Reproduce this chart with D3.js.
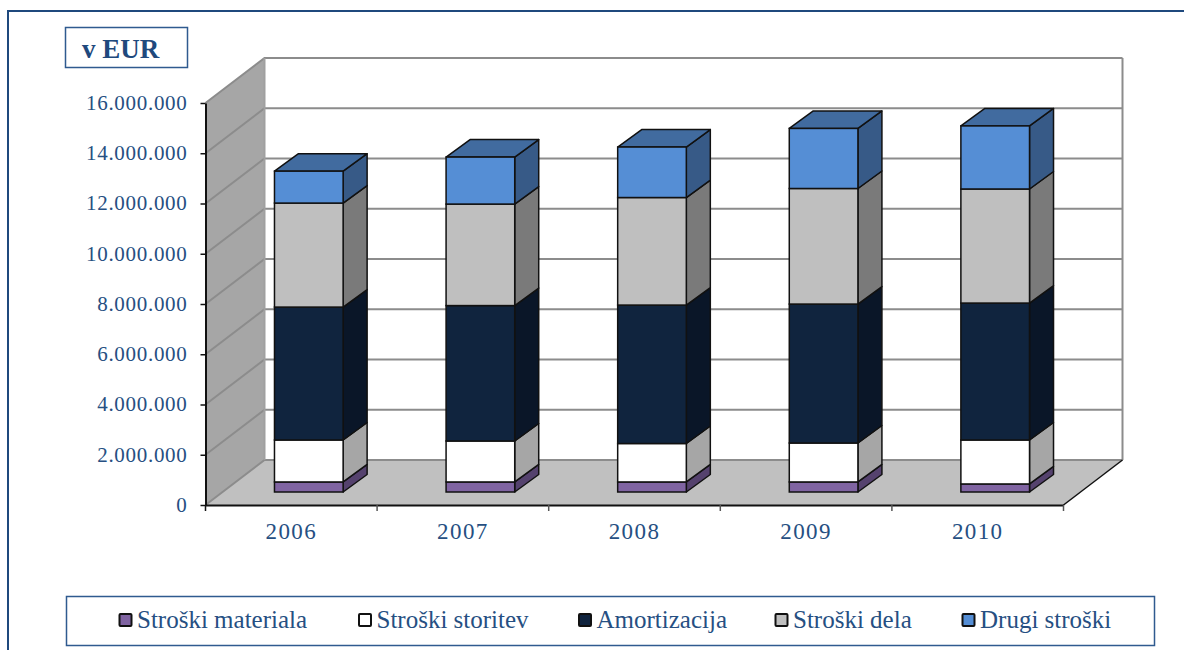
<!DOCTYPE html>
<html>
<head>
<meta charset="utf-8">
<script src="https://cdn.jsdelivr.net/npm/d3@7"></script>
<style>
  html, body { margin: 0; padding: 0; background: #fff; overflow: hidden; }
  text { font-family: "Liberation Serif", serif; fill: #264f82; }
</style>
</head>
<body>
<div id="chart"></div>
<script>
// chart data
var years = ["2006", "2007", "2008", "2009", "2010"];
var material = [400000, 400000, 400000, 400000, 320000];
var storitve = [1670000, 1630000, 1530000, 1550000, 1750000];
var amortizacija = [5290000, 5390000, 5510000, 5530000, 5450000];
var dela = [4140000, 4040000, 4280000, 4600000, 4540000];
var drugi = [1270000, 1870000, 2010000, 2390000, 2510000];
var seriesNames = ["Stroški materiala", "Stroški storitev", "Amortizacija", "Stroški dela", "Drugi stroški"];
var yTicks = [0, 2000000, 4000000, 6000000, 8000000, 10000000, 12000000, 14000000, 16000000];

// front, side, top colours per series
var colors = [
  ["#8064a2", "#55426e", "#66507f"],
  ["#ffffff", "#a6a6a6", "#cccccc"],
  ["#10243e", "#0a1628", "#0d1d32"],
  ["#bfbfbf", "#7a7a7a", "#999999"],
  ["#558ed5", "#375a87", "#416b9f"]
];

var svgWidth = 1184, svgHeight = 650;
var plot = { left: 205.5, right: 1063.5, top: 103, bottom: 505 };
var depth = { x: 59, y: -45 };          // floor/wall depth
var barDepth = { x: 24, y: -17.5 };     // depth of a bar
var barShift = { x: 17.5, y: -13 };     // bar sits inside the floor

var svg = d3.select("#chart").append("svg")
  .attr("width", svgWidth)
  .attr("height", svgHeight);

var x = d3.scaleBand().domain(years).range([plot.left, plot.right]);
var y = d3.scaleLinear().domain([0, 16000000]).range([plot.bottom, plot.top]);
var barWidth = x.bandwidth() / 2.5;

function fmt(v) {
  return String(v).replace(/\B(?=(\d{3})+(?!\d))/g, ".");
}
function poly(pts) {
  return pts.map(function(p) { return p.join(","); }).join(" ");
}

// outer frame, runs off the right and bottom of the page
svg.append("path")
  .attr("d", "M1184,11H8V650")
  .attr("fill", "none").attr("stroke", "#1f497d").attr("stroke-width", 2);

// floor
svg.append("polygon")
  .attr("points", poly([
    [plot.left, plot.bottom],
    [plot.right, plot.bottom],
    [plot.right + depth.x, plot.bottom + depth.y],
    [plot.left + depth.x, plot.bottom + depth.y]
  ]))
  .attr("fill", "#c0c0c0");

// left wall
svg.append("polygon")
  .attr("points", poly([
    [plot.left, plot.bottom],
    [plot.left + depth.x, plot.bottom + depth.y],
    [plot.left + depth.x, plot.top + depth.y],
    [plot.left, plot.top]
  ]))
  .attr("fill", "#a6a6a6");

// gridlines on left wall and back wall
svg.append("g").selectAll("polyline").data(yTicks).join("polyline")
  .attr("points", function(d) {
    return poly([
      [plot.left, y(d)],
      [plot.left + depth.x, y(d) + depth.y],
      [plot.right + depth.x, y(d) + depth.y]
    ]);
  })
  .attr("fill", "none")
  .attr("stroke", "#8c8c8c")
  .attr("stroke-width", 2);

// back wall edges
svg.append("line")
  .attr("x1", plot.left + depth.x).attr("x2", plot.left + depth.x)
  .attr("y1", plot.top + depth.y).attr("y2", plot.bottom + depth.y)
  .attr("stroke", "#a0a0a0").attr("stroke-width", 2);
svg.append("line")
  .attr("x1", plot.right + depth.x).attr("x2", plot.right + depth.x)
  .attr("y1", plot.top + depth.y).attr("y2", plot.bottom + depth.y)
  .attr("stroke", "#8c8c8c").attr("stroke-width", 2);

// floor edge on the right
svg.append("line")
  .attr("x1", plot.right).attr("y1", plot.bottom)
  .attr("x2", plot.right + depth.x).attr("y2", plot.bottom + depth.y)
  .attr("stroke", "#111").attr("stroke-width", 1.5);

// stacked bars
var table = years.map(function(yr, i) {
  return { year: yr, s0: material[i], s1: storitve[i], s2: amortizacija[i], s3: dela[i], s4: drugi[i] };
});
var stacked = d3.stack().keys(["s0", "s1", "s2", "s3", "s4"])(table);

var layers = svg.append("g").selectAll("g").data(stacked).join("g");
layers.each(function(layer, si) {
  var g = d3.select(this);
  layer.forEach(function(d) {
    var x0 = x(d.data.year) + x.bandwidth() / 2 - barWidth / 2 + barShift.x;
    var x1 = x0 + barWidth;
    var yLow = y(d[0]) + barShift.y;
    var yHigh = y(d[1]) + barShift.y;
    // side
    g.append("polygon")
      .attr("points", poly([
        [x1, yLow], [x1 + barDepth.x, yLow + barDepth.y],
        [x1 + barDepth.x, yHigh + barDepth.y], [x1, yHigh]
      ]))
      .attr("fill", colors[si][1])
      .attr("stroke", "#111").attr("stroke-width", 1.5).attr("stroke-linejoin", "round");
    // top is only visible on the last layer
    if (si === stacked.length - 1) {
      g.append("polygon")
        .attr("points", poly([
          [x0, yHigh], [x0 + barDepth.x, yHigh + barDepth.y],
          [x1 + barDepth.x, yHigh + barDepth.y], [x1, yHigh]
        ]))
        .attr("fill", colors[si][2])
        .attr("stroke", "#111").attr("stroke-width", 1.5).attr("stroke-linejoin", "round");
    }
    // front
    g.append("rect")
      .attr("x", x0).attr("y", yHigh)
      .attr("width", barWidth).attr("height", yLow - yHigh)
      .attr("fill", colors[si][0])
      .attr("stroke", "#111").attr("stroke-width", 1.5);
  });
});

// axes
var yAxis = d3.axisLeft(y).tickValues(yTicks).tickFormat(fmt).tickSize(5).tickPadding(13).tickSizeOuter(0);
var yAxisG = svg.append("g").attr("transform", "translate(" + plot.left + ",0)").call(yAxis);

// category ticks sit between the bands
var xAxis = d3.axisBottom(x).tickSize(0).tickPadding(18);
var xAxisG = svg.append("g").attr("transform", "translate(0," + plot.bottom + ")").call(xAxis);
xAxisG.selectAll(".sep").data(x.domain().concat(["end"])).join("line")
  .attr("class", "sep")
  .attr("x1", function(d, i) { return plot.left + i * x.step(); })
  .attr("x2", function(d, i) { return plot.left + i * x.step(); })
  .attr("y1", 0).attr("y2", 6)
  .attr("stroke", function(d, i) { return i === 0 ? "#111" : "#555"; })
  .attr("stroke-width", 1.5);

[yAxisG, xAxisG].forEach(function(a) {
  a.selectAll(".domain").attr("stroke", "#111").attr("stroke-width", 2);
  a.selectAll(".tick line").attr("stroke", "#111").attr("stroke-width", 1.5);
  a.selectAll("text").attr("fill", "#264f82")
    .style("font-family", '"Liberation Serif", serif');
});
yAxisG.selectAll("text").attr("dy", "0.3em").style("font-size", "21px").style("letter-spacing", "0.7px");
xAxisG.selectAll("text").attr("dy", "0.71em").style("font-size", "23px").style("letter-spacing", "1.4px");

// unit box
svg.append("rect")
  .attr("x", 65.5).attr("y", 27.5)
  .attr("width", 122).attr("height", 40)
  .attr("fill", "#fff").attr("stroke", "#2f5a8f").attr("stroke-width", 1.5);
svg.append("text")
  .attr("x", 82).attr("y", 58)
  .style("font-size", "27px").style("font-weight", "bold")
  .style("fill", "#1f497d")
  .text("v EUR");

// legend
svg.append("rect")
  .attr("x", 66.5).attr("y", 596.5)
  .attr("width", 1088).attr("height", 49)
  .attr("fill", "#fff").attr("stroke", "#2f5a8f").attr("stroke-width", 1.5);
var legendX = d3.scaleOrdinal().domain(seriesNames).range([119.5, 359, 579, 775.5, 962.5]);
var legend = svg.append("g").selectAll("g").data(seriesNames).join("g")
  .attr("transform", function(d) { return "translate(" + legendX(d) + ",621)"; });
legend.append("rect")
  .attr("x", 0).attr("y", -7)
  .attr("width", 12).attr("height", 12).attr("rx", 1)
  .attr("fill", function(d, i) { return colors[i][0]; })
  .attr("stroke", "#111").attr("stroke-width", 2);
legend.append("text")
  .attr("x", 17.5).attr("y", 7)
  .style("font-size", "25px")
  .text(function(d) { return d; });
</script>
</body>
</html>
